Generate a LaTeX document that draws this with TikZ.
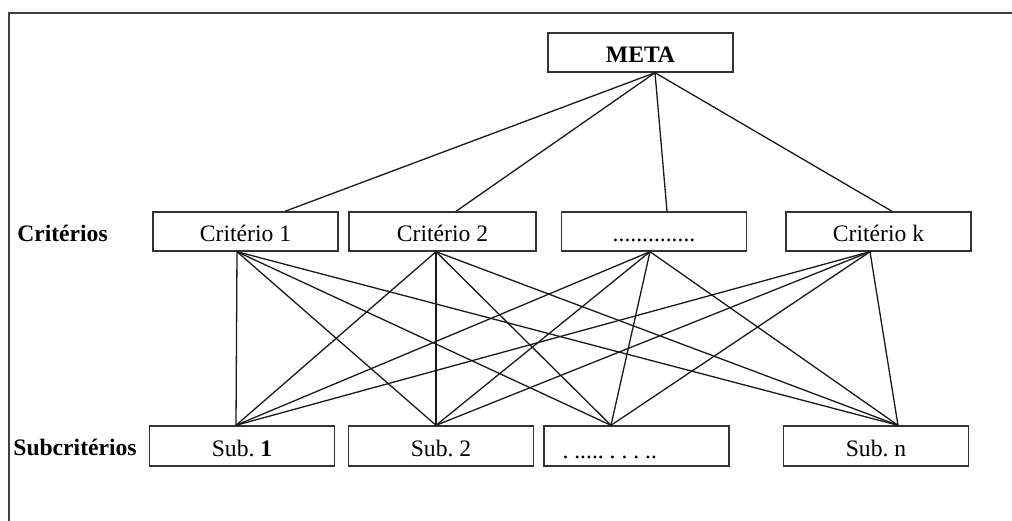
\documentclass[tikz,border=0pt]{standalone}
\usepackage{fontspec}
\setmainfont{Liberation Serif}
\frenchspacing
\begin{document}
\begin{tikzpicture}[x=1pt,y=-1pt,
  txt/.style={font=\fontsize{23.6}{28}\selectfont},
  box/.style={txt, draw=black!80, line width=1.4pt, minimum width=185pt,
              minimum height=39pt, inner sep=0pt, text height=21pt, text depth=0pt},
  subbox/.style={box, minimum height=40pt},
  lbl/.style={txt, font=\fontsize{23.6}{28}\selectfont\bfseries, inner sep=0pt},
  link/.style={line width=1.3pt, black!90}]
\useasboundingbox (0,0) rectangle (1012,521);

% open frame: top and left rules
\draw[line width=1.5pt, black!75] (9,521) -- (9,13) -- (1012,13);

% goal
\node[box] (meta) at (640.5,52.5) {\bfseries META};

% criteria
\node[box] (c1) at (245.5,231.5) {Critério 1};
\node[box, minimum width=187pt] (c2) at (442.5,231.5) {Critério 2};
\node[box] (c3) at (654,231.5) {..............};
\node[box] (ck) at (878.5,231.5) {Critério k};

% sub-criteria
\node[subbox] (s1) at (242,446) {Sub. \textbf{1}};
\node[subbox] (s2) at (441,446) {Sub. 2};
\node[subbox] (s3) at (636.5,446) {};
\node[txt, anchor=base west, inner sep=0pt] (s3t) at ([xshift=19pt,yshift=-12pt]s3.west) {. ..... . . . ..};
\node[subbox] (sn) at (876,446) {Sub. n};

% row labels
\node[lbl] (lc) at (62.5,233) {Critérios};
\node[lbl] (ls) at (75,447) {Subcritérios};

% goal to criteria
\foreach \c/\o in {c1/39.5, c2/13.5, c3/13, ck/13.5}
  \draw[link] ([xshift=14.5pt]meta.south) -- ([xshift=\o pt]\c.north);

% every criterion to every sub-criterion
\foreach \c/\a in {c1/-8.5, c2/-6.5, c3/-4, ck/-8.5}
  \foreach \s/\b in {s1/-6, s2/-5, s3/-25.5, sn/22}
    \draw[link] ([xshift=\a pt]\c.south) -- ([xshift=\b pt]\s.north);
\end{tikzpicture}
\end{document}
